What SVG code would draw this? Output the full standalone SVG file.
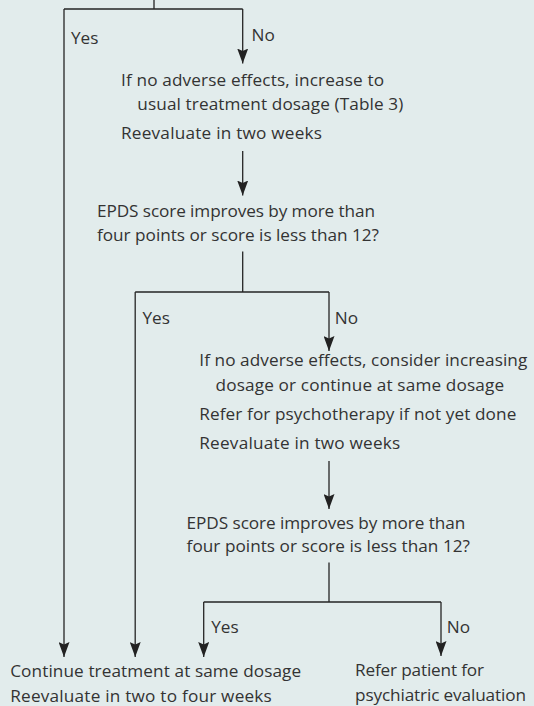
<svg xmlns="http://www.w3.org/2000/svg" width="534" height="706" viewBox="0 0 534 706">
<style>
text{font-family:"Open Sans","Noto Sans","Liberation Sans",sans-serif;font-size:17.2px;fill:#333;}
.c{fill:none;stroke:#252525;stroke-width:1.3;}
</style>
<defs>
<marker id="ah" markerUnits="userSpaceOnUse" viewBox="0 -5.5 15 11" refX="15" refY="0" markerWidth="15" markerHeight="11" orient="auto">
<path d="M0,-5.5 L15,0 L0,5.5 L2.5,0 Z" fill="#222"/>
</marker>
</defs>
<rect width="534" height="706" fill="#e2ecec"/>
<g id="connectors">
<path class="c" d="M154,0 V9 M64,9 H242.7"/>
<path class="c" d="M64,9 V657" marker-end="url(#ah)"/>
<path class="c" d="M242.7,9 V63.5" marker-end="url(#ah)"/>
<path class="c" d="M242.7,151 V195.5" marker-end="url(#ah)"/>
<path class="c" d="M242.7,251.5 V292 M135.2,292 H329"/>
<path class="c" d="M135.2,292 V657" marker-end="url(#ah)"/>
<path class="c" d="M329,292 V351" marker-end="url(#ah)"/>
<path class="c" d="M329,461 V509" marker-end="url(#ah)"/>
<path class="c" d="M329,562.5 V602 M203.7,602 H441"/>
<path class="c" d="M203.7,602 V657" marker-end="url(#ah)"/>
<path class="c" d="M441,602 V656" marker-end="url(#ah)"/>
</g>
<g id="labels">
<text x="71" y="43.5">Yes</text>
<text x="251.5" y="41">No</text>
<text x="142.4" y="324">Yes</text>
<text x="334.8" y="324">No</text>
<text x="211.2" y="633">Yes</text>
<text x="446.7" y="632.7">No</text>
</g>
<g id="step1">
<text x="121" y="85.5" textLength="263">If no adverse effects, increase to</text>
<text x="137.3" y="109.5" textLength="266">usual treatment dosage (Table 3)</text>
<text x="121" y="139" textLength="201">Reevaluate in two weeks</text>
</g>
<g id="decision1">
<text x="97" y="216.7" textLength="278">EPDS score improves by more than</text>
<text x="97" y="240.5" textLength="282">four points or score is less than 12?</text>
</g>
<g id="step2">
<text x="199.3" y="366" textLength="328">If no adverse effects, consider increasing</text>
<text x="215.6" y="390.5" textLength="288.5">dosage or continue at same dosage</text>
<text x="199.3" y="420.3" textLength="317">Refer for psychotherapy if not yet done</text>
<text x="199.3" y="449.2" textLength="201">Reevaluate in two weeks</text>
</g>
<g id="decision2">
<text x="186.6" y="528.8" textLength="278.7">EPDS score improves by more than</text>
<text x="186.6" y="552" textLength="283.4">four points or score is less than 12?</text>
</g>
<g id="continue">
<text x="10.2" y="676.7" textLength="291">Continue treatment at same dosage</text>
<text x="10.2" y="701.5" textLength="261.6">Reevaluate in two to four weeks</text>
</g>
<g id="refer">
<text x="355" y="676" textLength="129">Refer patient for</text>
<text x="355" y="700.5" textLength="171">psychiatric evaluation</text>
</g>
</svg>
